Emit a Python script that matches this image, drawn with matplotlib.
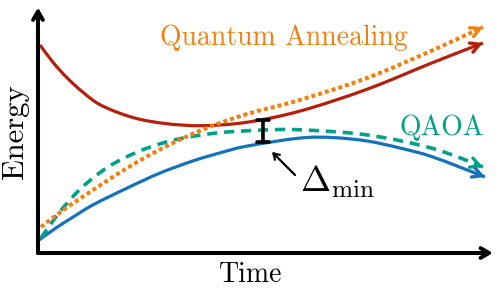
import matplotlib
matplotlib.use("Agg")
import numpy as np
import matplotlib.pyplot as plt
from matplotlib.path import Path
from matplotlib.patches import PathPatch

plt.rcParams["font.family"] = "serif"
plt.rcParams["font.serif"] = ["cmr10", "DejaVu Serif"]
plt.rcParams["mathtext.fontset"] = "cm"
plt.rcParams["axes.unicode_minus"] = False

# valeurs (temps 0..10, énergie 0..10)
t_red = [0.044, 0.33, 0.64, 1.0, 1.4, 2.1, 2.84, 3.63, 4.60, 5.77, 7.25, 8.70, 9.80]
e_red = [8.56, 7.85, 7.21, 6.60, 6.07, 5.57, 5.32, 5.24, 5.38, 5.84, 6.74, 7.84, 8.64]

t_blue = [0.022, 0.396, 0.705, 1.211, 1.960, 2.687, 3.414, 4.009, 4.604, 5.771, 6.498, 7.247,
          7.974, 8.700, 9.846]
e_blue = [0.535, 1.03, 1.40, 1.98, 2.67, 3.29, 3.79, 4.12, 4.40, 4.73, 4.75, 4.61,
          4.32, 3.95, 3.13]

t_qaoa = [0.066, 0.463, 0.903, 1.344, 1.784, 2.379, 3.062, 3.943, 4.956, 5.771, 7.247, 8.700, 9.802]
e_qaoa = [0.62, 1.65, 2.58, 3.28, 3.80, 4.30, 4.68, 4.94, 5.06, 5.07, 4.86, 4.30, 3.54]

t_qa = [0.066, 0.617, 1.211, 1.784, 2.379, 2.974, 3.722, 4.604, 5.771, 7.247, 8.700, 9.802]
e_qa = [1.07, 1.85, 2.59, 3.29, 3.95, 4.53, 5.15, 5.72, 6.30, 7.20, 8.35, 9.30]

t_gap = 4.956
gap_bottom, gap_top = 4.57, 5.47

RED = "#b5200d"
BLUE = "#1372bb"
TEAL = "#00a189"
ORANGE = "#f67e0b"

fig = plt.figure(figsize=(4.98, 2.88), dpi=100)
ax = fig.add_axes([0.0763, 0.1215, 0.9116, 0.8438])
ax.set_xlim(0, 10)
ax.set_ylim(0, 10)
for s in ax.spines.values():
    s.set_visible(False)
ax.set_xticks([])
ax.set_yticks([])


def chemin_lisse(t, e):
    """Courbe de Bézier (Catmull-Rom) passant par les points lus."""
    p = np.column_stack([t, e])
    verts = [p[0]]
    codes = [Path.MOVETO]
    n = len(p)
    for i in range(n - 1):
        p0 = p[i - 1] if i > 0 else p[i]
        p1, p2 = p[i], p[i + 1]
        p3 = p[i + 2] if i + 2 < n else p[i + 1]
        verts += [p1 + (p2 - p0) / 6, p2 - (p3 - p1) / 6, p2]
        codes += [Path.CURVE4] * 3
    return Path(verts, codes)


def courbe(t, e, color, ls, lw):
    ax.add_patch(PathPatch(chemin_lisse(t, e), fill=False, edgecolor=color, lw=lw,
                           linestyle=ls, capstyle="butt", clip_on=False))
    # pointe de flèche ouverte au bout
    dx, dy = t[-1] - t[-2], e[-1] - e[-2]
    ax.annotate("", xy=(t[-1], e[-1]), xytext=(t[-1] - 0.15 * dx, e[-1] - 0.15 * dy),
                arrowprops=dict(arrowstyle="->,head_length=0.65,head_width=0.35",
                                color=color, lw=2.4, shrinkA=0, shrinkB=0),
                annotation_clip=False)


courbe(t_red, e_red, RED, "-", 2.3)
courbe(t_blue, e_blue, BLUE, "-", 2.3)
courbe(t_qaoa, e_qaoa, TEAL, (0, (2.8, 1.9)), 2.6)
courbe(t_qa, e_qa, ORANGE, (0, (1, 0.75)), 2.9)

# axes avec flèches
axis_kw = dict(arrowstyle="->,head_length=0.6,head_width=0.35", color="black",
               lw=2.9, shrinkA=0, shrinkB=0)
ax.annotate("", xy=(0, 1.01), xytext=(0, 0), xycoords="axes fraction",
            arrowprops=axis_kw, annotation_clip=False)
ax.annotate("", xy=(1.002, 0), xytext=(0, 0), xycoords="axes fraction",
            arrowprops=axis_kw, annotation_clip=False)

# gap minimal
ax.annotate("", xy=(t_gap, gap_top), xytext=(t_gap, gap_bottom),
            arrowprops=dict(arrowstyle="|-|,widthA=0.4,widthB=0.4", color="black",
                            lw=2.6, shrinkA=0, shrinkB=0))
ax.annotate("", xy=(5.154, 4.16), xytext=(5.661, 3.21),
            arrowprops=dict(arrowstyle="->,head_length=0.4,head_width=0.25",
                            color="black", lw=1.6, shrinkA=0, shrinkB=0))
ax.text(5.77, 2.51, r"$\Delta_{\mathrm{min}}$", fontsize=26, va="baseline", ha="left")

ax.text(2.687, 8.56, "Quantum Annealing", color=ORANGE, fontsize=20,
        va="baseline", ha="left")
ax.text(7.974, 4.86, "QAOA", color=TEAL, fontsize=20, va="baseline", ha="left")

ax.text(0.469, -0.119, "Time", fontsize=20, ha="center", va="baseline",
        transform=ax.transAxes)
ax.text(-0.0507, 0.5, "Energy", fontsize=22, ha="center", va="center",
        rotation=90, transform=ax.transAxes)

fig.savefig("out.png", dpi=100)
